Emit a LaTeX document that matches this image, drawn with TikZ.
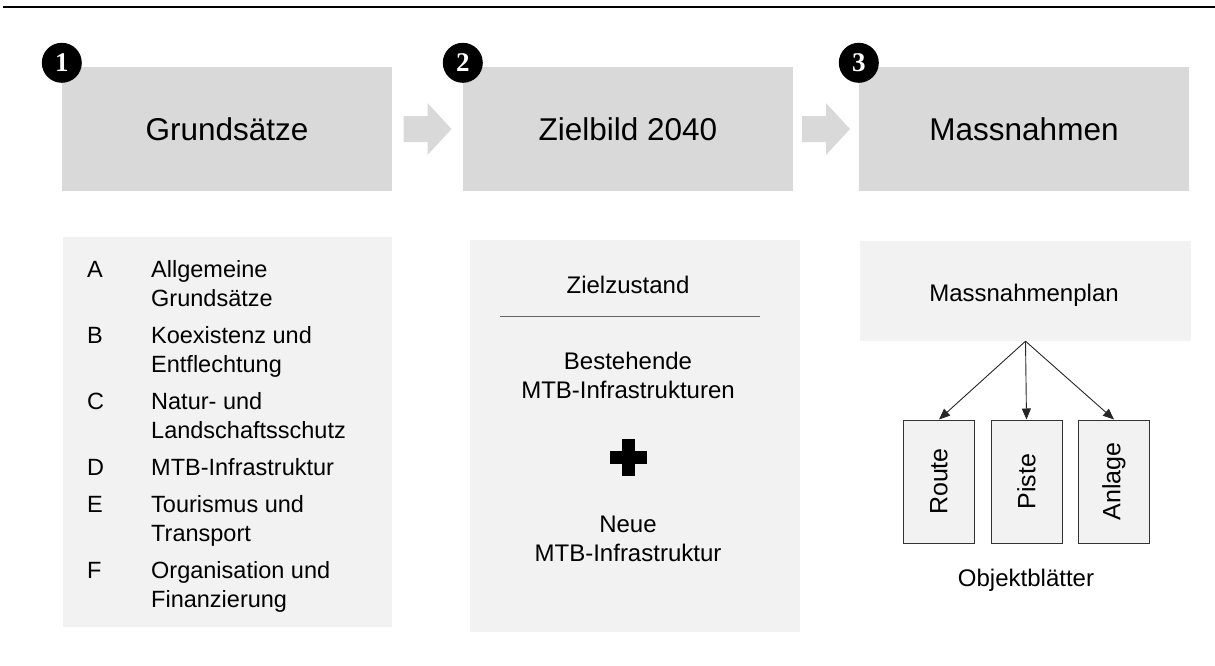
\documentclass[tikz,border=0pt]{standalone}
\usepackage{fontspec}
\setmainfont{Liberation Sans}
\newfontfamily\numfont{Liberation Serif}
\usepackage{tikz}
\usetikzlibrary{positioning}
\usetikzlibrary{calc}
\usetikzlibrary{arrows.meta}

\definecolor{headgray}{HTML}{D9D9D9}
\definecolor{panegray}{HTML}{F2F2F2}
\definecolor{framegray}{HTML}{333333}

\begin{document}
\begin{tikzpicture}[x=1pt, y=-1pt,
  headbox/.style={fill=headgray, minimum width=330pt, minimum height=124pt, inner sep=0pt, font=\fontsize{31.5}{37}\selectfont},
  panebox/.style={fill=panegray, inner sep=0pt},
  numdot/.style={circle, fill=black, text=white, minimum size=40pt, inner sep=0pt, font=\numfont\bfseries\fontsize{27}{27}\selectfont},
  bodytext/.style={font=\fontsize{24}{29}\selectfont, inner sep=0pt},
  sheet/.style={draw=framegray, fill=panegray, line width=1pt, minimum width=71pt, minimum height=123pt, inner sep=0pt, font=\fontsize{25}{28}\selectfont},
  flow/.style={draw=black!85, line width=0.9pt, -{Triangle[length=11pt,width=9pt]}}
]

\useasboundingbox (0,0) rectangle (1215,665);

\draw[line width=2pt] (3,7) -- (1215,7); % linea in alto

% intestazioni
\node[headbox] (head1) at (227,129) {Grundsätze};
\node[headbox] (head2) at (628,129) {Zielbild 2040};
\node[headbox] (head3) at (1024,129) {Massnahmen};

\node[numdot] (num1) at ($(head1.north west)+(0,-4)$) {1};
\node[numdot] (num2) at ($(head2.north west)+(0,-4)$) {2};
\node[numdot] (num3) at ($(head3.north west)+(0,-4)$) {3};

% frecce grigie
\foreach \a/\b in {head1/head2, head2/head3}
  \fill[headgray] ($(\a.east)!0.5!(\b.west)$) ++(-24,-13) -- ++(24,0) -- ++(0,-13)
    -- ++(24,26) -- ++(-24,26) -- ++(0,-13) -- ++(-24,0) -- cycle;

% riquadri sotto
\node[panebox, minimum width=329pt, minimum height=390pt] (rules) at (227.5,432) {};
\node[panebox, minimum width=330pt, minimum height=392pt] (goal) at (635,436) {};
\node[panebox, minimum width=331pt, minimum height=100pt] (plan) at (1025.5,291) {};

% elenco A-F
\node[anchor=north west, inner sep=0pt, font=\fontsize{23.5}{29}\selectfont] (items) at (87,257)
{\begin{tabular}{@{}p{64pt}@{}l@{}}
A & Allgemeine\\ & Grundsätze\\[8pt]
B & Koexistenz und\\ & Entflechtung\\[8pt]
C & Natur- und\\ & Landschaftsschutz\\[8pt]
D & MTB-Infrastruktur\\[8pt]
E & Tourismus und\\ & Transport\\[8pt]
F & Organisation und\\ & Finanzierung
\end{tabular}};

% zielzustand
\node[bodytext, anchor=base] (state) at (628,293) {Zielzustand};
\draw[black!60, line width=0.8pt] ($(state.base)+(-128,23)$) -- ($(state.base)+(132,23)$); % riga

\node[bodytext, align=center] (old) at (628,375) {Bestehende\\MTB-Infrastrukturen};
\coordinate (plus) at (628,457);
\fill ($(plus)+(-18.5,-6.5)$) rectangle ++(37,13); % croce
\fill ($(plus)+(-6.5,-18.5)$) rectangle ++(13,37);
\node[bodytext, align=center] (new) at (628,539) {Neue\\MTB-Infrastruktur};

% massnahmenplan
\node[bodytext, anchor=base] (plantext) at (1024,301) {Massnahmenplan};

\node[sheet] (route) at (939,481.5) {\rotatebox{90}{Route}};
\node[sheet, right=15.5pt of route] (piste) {\rotatebox{90}{Piste}};
\node[sheet, right=15.5pt of piste] (anlage) {\rotatebox{90}{Anlage}};

\foreach \s in {route, piste, anlage}
  \draw[flow] (plan.south) -- (\s.north);

\node[bodytext, anchor=base] (sheets) at (1026,586) {Objektblätter};

\end{tikzpicture}
\end{document}
